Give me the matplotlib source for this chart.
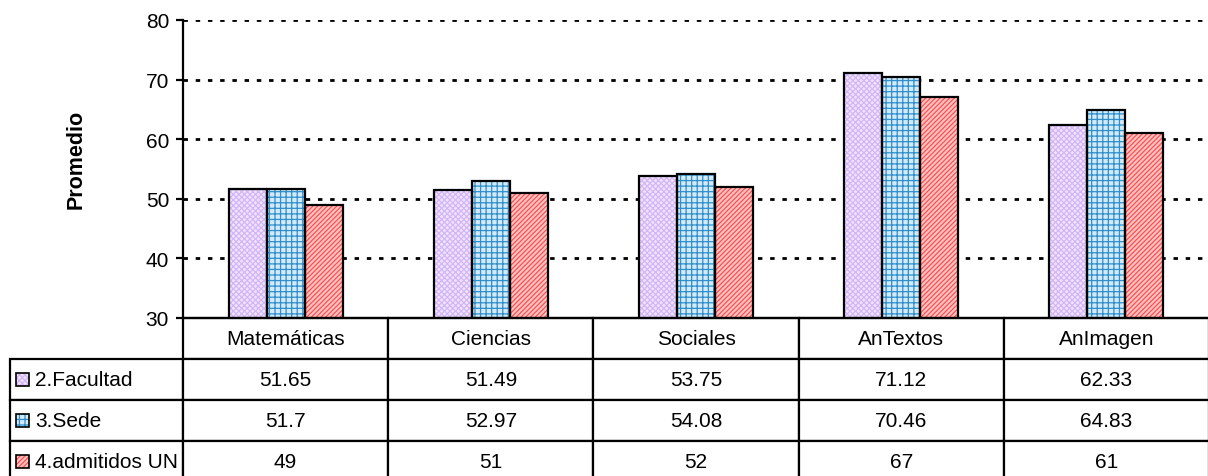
import numpy as np
import matplotlib.pyplot as plt
from matplotlib.patches import Rectangle
from matplotlib.table import Table

plt.rcParams['font.family'] = ['Liberation Sans', 'DejaVu Sans']
plt.rcParams['hatch.linewidth'] = 0.9

categories = ["Matemáticas", "Ciencias", "Sociales", "AnTextos", "AnImagen"]
series_names = ["2.Facultad", "3.Sede", "4.admitidos UN"]
facultad = [51.65, 51.49, 53.75, 71.12, 62.33]
sede = [51.7, 52.97, 54.08, 70.46, 64.83]
admitidos = [49, 51, 52, 67, 61]

# fill, hatch colour, hatch
styles = [("#F1E4FF", "#D2B6F5", "xxxxxx"),
          ("#D4EAF8", "#2E8FCB", "+++"),
          ("#FFC4C4", "#FF4F4F", "///////")]

W, H = 1208, 477
fig = plt.figure(figsize=(W / 100, H / 100), dpi=100)
ax_l, ax_r, ax_t, ax_b = 183, 1209, 21, 319
ax = fig.add_axes([ax_l / W, 1 - ax_b / H, (ax_r - ax_l) / W, (ax_b - ax_t) / H])

x = np.arange(len(categories))
bw = 0.185
all_series = [facultad, sede, admitidos]
for i, vals in enumerate(all_series):
    fc, hc, hatch = styles[i]
    pos = x + (i - 1) * bw
    ax.bar(pos, np.array(vals) - 30, bw, bottom=30, color=fc, edgecolor=hc,
           hatch=hatch, linewidth=0, zorder=2)
    ax.bar(pos, np.array(vals) - 30, bw, bottom=30, fill=False,
           edgecolor="black", linewidth=1.6, zorder=3)

ax.set_xlim(-0.5, len(categories) - 0.5)
ax.set_ylim(30, 80)
ax.set_yticks(range(30, 81, 10))
ax.set_xticks([])
ax.tick_params(axis="y", direction="out", length=5, width=1.6, labelsize=15,
               pad=5)
ax.yaxis.grid(True, color="black", linestyle=(0, (1.6, 2.8)), linewidth=2.0)
ax.set_axisbelow(True)
for s in ["top", "right"]:
    ax.spines[s].set_visible(False)
ax.spines["left"].set_linewidth(1.6)
ax.spines["bottom"].set_linewidth(1.6)

fig.text(76 / W, 1 - 159 / H, "Promedio", rotation=90, ha="center",
         va="center", fontweight="bold", fontsize=15.5)

# data table under the axes
axw = ax_r - ax_l
axh = ax_b - ax_t
rl_px = 173
row_px = 41
rl = rl_px / axw
th = 4 * row_px / axh
tbl = Table(ax, bbox=[-rl, -th, 1 + rl, th])
for j, name in enumerate(categories):
    tbl.add_cell(0, j + 1, width=0.2, height=1, text=name, loc="center")
hdr = tbl.add_cell(0, 0, width=rl, height=1, text="")
hdr.visible_edges = ""
for i, vals in enumerate(all_series):
    lab = tbl.add_cell(i + 1, 0, width=rl, height=1, text=series_names[i],
                       loc="left")
    lab.PAD = 0.145
    for j, v in enumerate(vals):
        tbl.add_cell(i + 1, j + 1, width=0.2, height=1, text=f"{v:g}",
                     loc="center")
tbl.auto_set_font_size(False)
tbl.set_fontsize(15)
for cell in tbl.get_celld().values():
    cell.set_linewidth(1.6)
    cell.set_edgecolor("black")
ax.add_table(tbl)

# legend keys in the row label cells
ks = 13
for i in range(3):
    cy = ax_b + (i + 1.5) * row_px
    kx = (16 - ax_l) / axw
    ky = (ax_b - cy - ks / 2) / axh
    fc, hc, hatch = styles[i]
    ax.add_patch(Rectangle((kx, ky), ks / axw, ks / axh, transform=ax.transAxes,
                           facecolor=fc, edgecolor=hc, hatch=hatch, linewidth=0,
                           clip_on=False, zorder=5))
    ax.add_patch(Rectangle((kx, ky), ks / axw, ks / axh, transform=ax.transAxes,
                           fill=False, edgecolor="black", linewidth=1.2,
                           clip_on=False, zorder=6))

fig.savefig("out.png", dpi=100)
